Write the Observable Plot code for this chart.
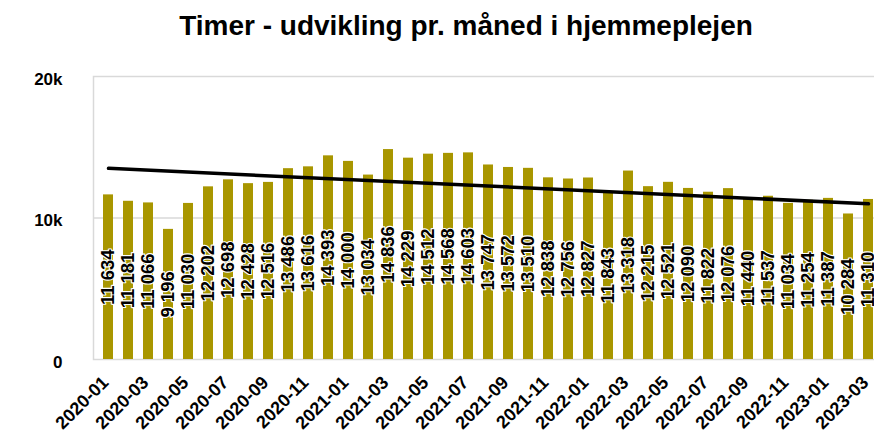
<!DOCTYPE html>
<html><head><meta charset="utf-8">
<script src="https://cdn.jsdelivr.net/npm/d3@7"></script>
<script src="https://cdn.jsdelivr.net/npm/@observablehq/plot@0.6"></script>
<style>
html,body{margin:0;padding:0;overflow:hidden;background:#fff;font-family:"Liberation Sans",Arial,sans-serif;}
#title{box-sizing:border-box;width:874px;height:50px;padding-top:10px;padding-left:58px;text-align:center;font-weight:bold;font-size:28px;line-height:32px;color:#000;white-space:nowrap;}
#chart svg{display:block;max-width:none !important;}
</style></head>
<body>
<div id="title">Timer - udvikling pr. måned i hjemmeplejen</div>
<div id="chart"></div>
<script>
const months = [
  "2020-01","2020-02","2020-03","2020-04","2020-05","2020-06","2020-07","2020-08","2020-09","2020-10","2020-11","2020-12",
  "2021-01","2021-02","2021-03","2021-04","2021-05","2021-06","2021-07","2021-08","2021-09","2021-10","2021-11","2021-12",
  "2022-01","2022-02","2022-03","2022-04","2022-05","2022-06","2022-07","2022-08","2022-09","2022-10","2022-11","2022-12",
  "2023-01","2023-02","2023-03"
];
const hours = [
  11634,11181,11066,9196,11030,12202,12698,12428,12516,13486,13616,14393,
  14000,13034,14836,14229,14512,14568,14603,13747,13572,13510,12838,12756,
  12827,11843,13318,12215,12521,12090,11822,12076,11440,11537,11034,11254,
  11387,10284,11310
];
// trend line values at the first and last month
const trendMonths = ["2020-01", "2023-03"];
const trendValues = [13510, 11000];
const yTicks = [0, 10000, 20000];
const xTicks = months.filter((d, i) => i % 2 === 0);

const data = months.map((m, i) => ({m, v: hours[i]}));
const trend = trendMonths.map((m, i) => ({m, v: trendValues[i]}));

const fmt = v => d3.format(",")(v).replace(/,/g, " ");

const chart = Plot.plot({
  width: 882,
  height: 400,
  marginLeft: 93,
  marginRight: 0,
  marginTop: 26,
  marginBottom: 91,
  style: {fontFamily: '"Liberation Sans", Arial, sans-serif', background: "#fff", color: "#000", maxWidth: "none"},
  x: {domain: months, paddingInner: 0.5, paddingOuter: 0.3, label: null},
  y: {domain: [0, 20000], label: null},
  marks: [
    Plot.frame({stroke: "#d9d9d9", strokeWidth: 1.5}),
    Plot.ruleY([10000], {stroke: "#d9d9d9", strokeWidth: 1.5}),
    Plot.barY(data, {x: "m", y: "v", fill: "#a89600"}),
    Plot.text(data, {x: "m", y: d => d.v / 2, text: d => fmt(d.v), rotate: -90, fontSize: 18.5, fontWeight: "bold", fill: "#000", stroke: "#fff", strokeWidth: 2.2, paintOrder: "stroke"}),
    Plot.line(trend, {x: "m", y: "v", stroke: "#000", strokeWidth: 3.5, strokeLinecap: "round"}),
    Plot.axisY({ticks: yTicks, tickFormat: d => d === 0 ? "0" : (d / 1000) + "k", tickSize: 0, tickPadding: 31, dy: 3, fontSize: 17, fontWeight: "bold", label: null}),
    Plot.axisX({ticks: xTicks, tickRotate: -45, tickSize: 0, tickPadding: 20, dx: -3, fontSize: 18, fontWeight: "bold", label: null})
  ]
});
document.getElementById("chart").appendChild(chart);
</script>
</body></html>
